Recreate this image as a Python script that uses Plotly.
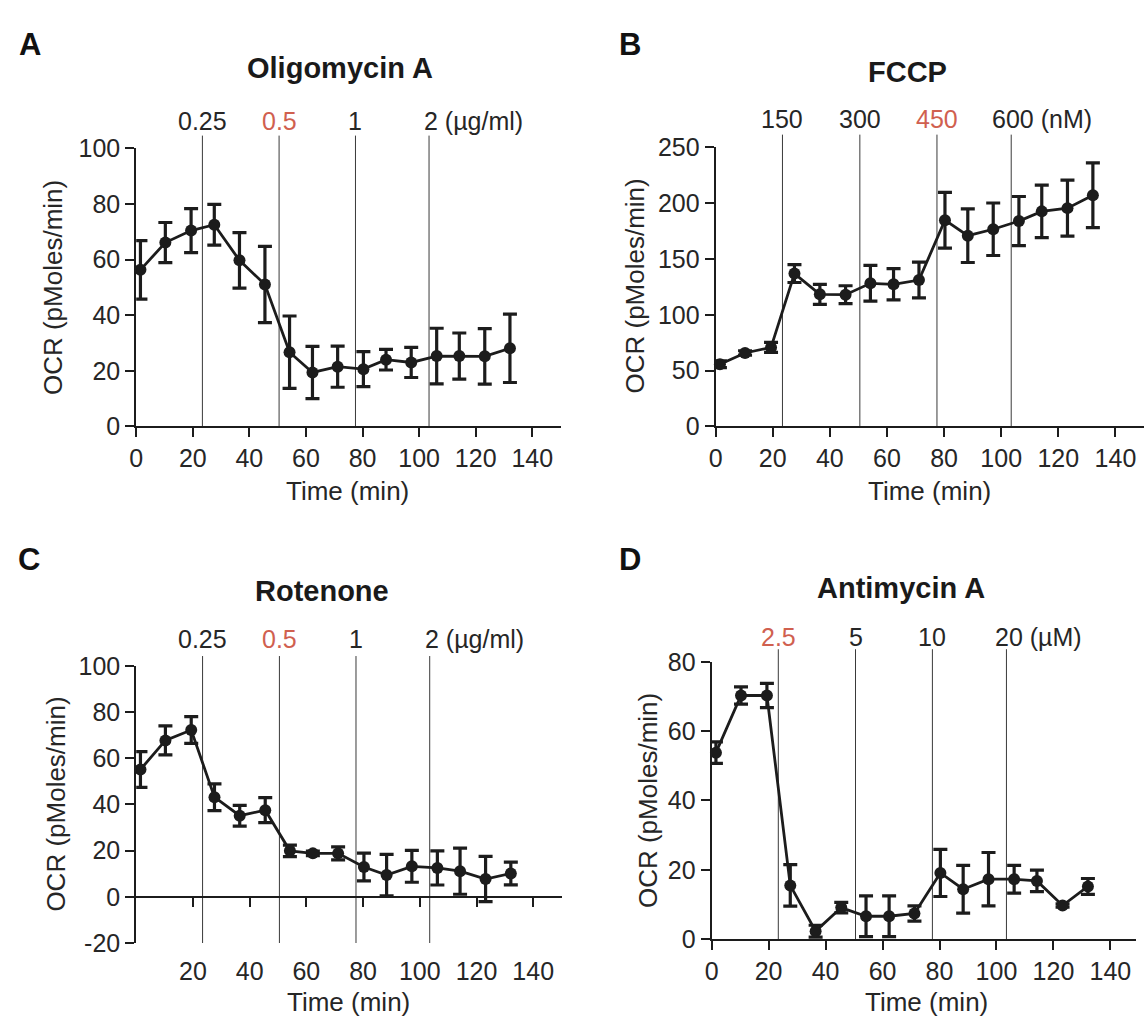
import plotly.graph_objects as go

W, H = 1144, 1029

# Measurement times (min) and injection times (min)
time_min = [1.5, 10.3, 19.4, 27.6, 36.5, 45.5, 54.2, 62.3, 71.2, 80.3, 88.3, 97.2, 106.2, 114.2, 123.2, 132.1]
injection_min = [23.4, 50.5, 77.5, 103.5]

# Oligomycin A
oligo_ocr = [56.3, 66.1, 70.4, 72.5, 59.7, 51.0, 26.7, 19.4, 21.5, 20.6, 24.0, 23.0, 25.3, 25.3, 25.2, 28.1]
oligo_err = [10.5, 7.2, 7.9, 7.3, 10.0, 13.7, 13.0, 9.4, 7.4, 6.3, 3.7, 5.4, 10.0, 8.3, 10.0, 12.3]
oligo_doses = ["0.25", "0.5", "1", "2"]

# FCCP
fccp_ocr = [55.7, 65.8, 70.8, 136.9, 118.3, 118.0, 128.2, 127.3, 131.1, 184.7, 170.8, 176.6, 183.9, 192.6, 195.5, 207.0]
fccp_err = [3.0, 2.0, 4.5, 8.0, 9.0, 8.0, 16.0, 14.0, 16.0, 25.0, 24.0, 23.5, 22.0, 23.5, 25.0, 29.0]
fccp_doses = ["150", "300", "450", "600"]

# Rotenone
rot_ocr = [55.1, 67.7, 72.2, 43.1, 35.1, 37.5, 19.9, 18.8, 18.8, 12.9, 9.4, 13.2, 12.5, 11.1, 7.7, 10.1]
rot_err = [7.7, 6.3, 5.8, 5.8, 4.5, 5.4, 2.5, 1.0, 2.8, 6.0, 9.0, 6.9, 7.4, 10.0, 9.8, 4.9]
rot_doses = ["0.25", "0.5", "1", "2"]

# Antimycin A
anti_ocr = [53.8, 70.3, 70.3, 15.5, 2.3, 9.1, 6.6, 6.6, 7.4, 19.1, 14.4, 17.3, 17.3, 16.8, 9.7, 15.2]
anti_err = [3.1, 2.5, 3.5, 6.0, 1.7, 1.5, 5.9, 5.9, 2.2, 6.8, 6.9, 7.7, 4.0, 3.1, 0.5, 2.3]
anti_doses = ["2.5", "5", "10", "20"]

FONT = "Liberation Sans, Arial, sans-serif"
INK = "#1c1c1c"
TEXT = "#262626"
RED = "#d0604f"


def px(x):
    return x / W


def py(y):
    return 1 - y / H


def num_width(s, fs):
    return sum(0.278 * fs if ch == "." else 0.556 * fs for ch in s)


# Panel geometry (pixels): x-domain, y-domain (top, bottom), label rows
panels = [
    dict(letter="A", title="Oligomycin A", ocr=oligo_ocr, err=oligo_err, doses=oligo_doses,
         unit="(\u00b5g/ml)", red=1, yrange=[0, 100], dtick=20,
         xdom=(130, 557), ydom=(138, 424), xrange=[0, 150],
         letter_xy=(10, 31), title_xy=(335, 56), dose_y=110, line_top=125,
         xtitle_xy=(343, 490), ytitle_xy=(47, 281)),
    dict(letter="B", title="FCCP", ocr=fccp_ocr, err=fccp_err, doses=fccp_doses,
         unit="(nM)", red=2, yrange=[0, 250], dtick=50,
         xdom=(713, 1144), ydom=(137, 424), xrange=[0, 150],
         letter_xy=(614, 31), title_xy=(906, 60), dose_y=108, line_top=124,
         xtitle_xy=(928, 490), ytitle_xy=(632, 280)),
    dict(letter="C", title="Rotenone", ocr=rot_ocr, err=rot_err, doses=rot_doses,
         unit="(\u00b5g/ml)", red=1, yrange=[-20, 100], dtick=20,
         xdom=(130, 558), ydom=(670, 955), xrange=[0, 150],
         letter_xy=(9, 561), title_xy=(317, 593), dose_y=642, line_top=660,
         xtitle_xy=(344, 1016), ytitle_xy=(49, 812)),
    dict(letter="D", title="Antimycin A", ocr=anti_ocr, err=anti_err, doses=anti_doses,
         unit="(\u00b5M)", red=0, yrange=[0, 80], dtick=20,
         xdom=(709, 1136), ydom=(666, 951), xrange=[0, 149],
         letter_xy=(614, 561), title_xy=(900, 590), dose_y=640, line_top=653,
         xtitle_xy=(925, 1016), ytitle_xy=(645, 809)),
]

fig = go.Figure()
shapes = []
annotations = []
layout_axes = {}

axis_common = dict(
    showline=True, linewidth=2, linecolor=INK, ticks="outside", ticklen=9,
    tickwidth=2, tickcolor=INK, showgrid=False, zeroline=False,
    tickfont=dict(family=FONT, size=25, color=TEXT),
)

for i, p in enumerate(panels, start=1):
    xa, ya = f"x{i}", f"y{i}"
    xkey = "xaxis" if i == 1 else f"xaxis{i}"
    ykey = "yaxis" if i == 1 else f"yaxis{i}"

    fig.add_trace(go.Scatter(
        x=time_min, y=p["ocr"], xaxis=xa, yaxis=ya, mode="lines+markers",
        line=dict(color=INK, width=2.8),
        marker=dict(color=INK, size=12),
        error_y=dict(type="data", array=p["err"], color=INK, thickness=3.2, width=7),
        cliponaxis=False, showlegend=False, hoverinfo="skip",
    ))

    xdomain = [px(p["xdom"][0]), px(p["xdom"][1])]
    ydomain = [py(p["ydom"][1]), py(p["ydom"][0])]

    ticks_x = list(range(0, 141, 20))
    yvals = list(range(p["yrange"][0], p["yrange"][1] + 1, p["dtick"]))
    if p["yrange"][0] < 0:
        # Bottom axis carries labels only; the y=0 baseline carries line and ticks
        layout_axes[xkey] = dict(axis_common, domain=xdomain, range=p["xrange"], anchor=ya,
                                 tickvals=ticks_x[1:], showline=False, ticklen=6,
                                 tickcolor="rgba(0,0,0,0)")
        zero_frac = (0 - p["yrange"][0]) / (p["yrange"][1] - p["yrange"][0])
        layout_axes["xaxis5"] = dict(axis_common, overlaying=xa, anchor="free",
                                     position=ydomain[0] + zero_frac * (ydomain[1] - ydomain[0]),
                                     range=p["xrange"], tickvals=ticks_x[1:],
                                     showticklabels=False)
        fig.add_trace(go.Scatter(x=[], y=[], xaxis="x5", yaxis=ya, showlegend=False,
                                 hoverinfo="skip"))
    else:
        layout_axes[xkey] = dict(axis_common, domain=xdomain, range=p["xrange"], anchor=ya,
                                 tickvals=ticks_x)
    layout_axes[ykey] = dict(axis_common, domain=ydomain, range=p["yrange"], anchor=xa,
                             tickvals=yvals, ticktext=[str(v) for v in yvals])

    # Injection markers
    for t in injection_min:
        shapes.append(dict(type="line", xref=xa, yref="paper", x0=t, x1=t,
                           y0=py(p["ydom"][1]), y1=py(p["line_top"]),
                           line=dict(color="#3a3a3a", width=1), layer="below"))

    # Dose labels above injection lines
    for k, (t, d) in enumerate(zip(injection_min, p["doses"])):
        color = RED if k == p["red"] else TEXT
        if k == len(p["doses"]) - 1:
            annotations.append(dict(x=t, y=py(p["dose_y"]), xref=xa, yref="paper",
                                    text=f"{d} {p['unit']}", showarrow=False,
                                    xanchor="left", yanchor="middle",
                                    xshift=-num_width(d, 25) / 2,
                                    font=dict(family=FONT, size=25, color=color)))
        else:
            annotations.append(dict(x=t, y=py(p["dose_y"]), xref=xa, yref="paper",
                                    text=d, showarrow=False, xanchor="center",
                                    yanchor="middle",
                                    font=dict(family=FONT, size=25, color=color)))

    # Panel letter and drug name
    annotations.append(dict(x=px(p["letter_xy"][0]), y=py(p["letter_xy"][1]), xref="paper",
                            yref="paper", text=f"<b>{p['letter']}</b>", showarrow=False,
                            xanchor="left", yanchor="middle",
                            font=dict(family=FONT, size=31, color="#111")))
    annotations.append(dict(x=px(p["title_xy"][0]), y=py(p["title_xy"][1]), xref="paper",
                            yref="paper", text=f"<b>{p['title']}</b>", showarrow=False,
                            xanchor="center", yanchor="middle",
                            font=dict(family=FONT, size=29, color="#1a1a1a")))
    # Axis titles
    annotations.append(dict(x=px(p["xtitle_xy"][0]), y=py(p["xtitle_xy"][1]), xref="paper",
                            yref="paper", text="Time (min)", showarrow=False,
                            xanchor="center", yanchor="middle",
                            font=dict(family=FONT, size=26, color=TEXT)))
    annotations.append(dict(x=px(p["ytitle_xy"][0]), y=py(p["ytitle_xy"][1]), xref="paper",
                            yref="paper", text="OCR (pMoles/min)", showarrow=False,
                            textangle=-90, xanchor="center", yanchor="middle",
                            font=dict(family=FONT, size=26, color=TEXT)))

fig.update_layout(
    width=W, height=H,
    margin=dict(l=0, r=0, t=0, b=0),
    paper_bgcolor="white", plot_bgcolor="rgba(0,0,0,0)",
    shapes=shapes, annotations=annotations,
    font=dict(family=FONT, color=TEXT),
    **layout_axes,
)

fig.write_html("out.html")
